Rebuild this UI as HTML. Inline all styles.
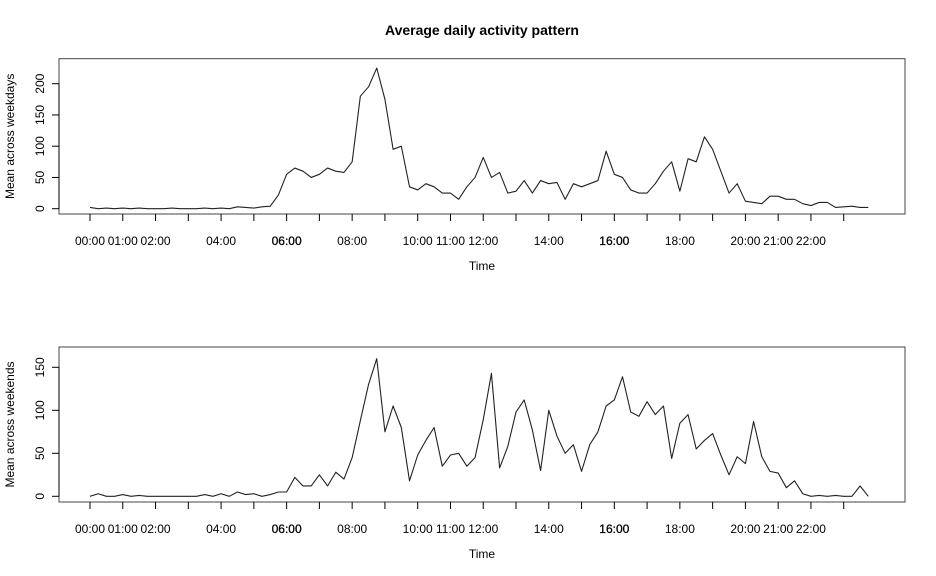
<!DOCTYPE html>
<html><head><meta charset="utf-8"><style>
html,body{margin:0;padding:0;background:#fff;}
svg{display:block;font-family:"Liberation Sans",Arial,sans-serif;}
</style></head><body>
<svg id="chart" width="936" height="576" viewBox="0 0 936 576" xmlns="http://www.w3.org/2000/svg">
<text x="482" y="35" text-anchor="middle" font-size="14" font-weight="bold">Average daily activity pattern</text>
<g id="p1"></g>
<g id="p2"></g>
</svg>
<script>
const hourLabels = ["00:00","01:00","02:00","03:00","04:00","05:00","06:00","07:00","08:00","09:00","10:00","11:00","12:00","13:00","14:00","15:00","16:00","17:00","18:00","19:00","20:00","21:00","22:00","23:00"];
const shownLabels = ["00:00","01:00","02:00","04:00","06:00","08:00","10:00","11:00","12:00","14:00","16:00","18:00","20:00","21:00","22:00"];
const weekdayTicks = [0,50,100,150,200];
const weekendTicks = [0,50,100,150];
const weekdayMeans = [
 2,0,1,0, 1,0,1,0, 0,0,1,0, 0,0,1,0, 1,0,3,2, 1,3,4,22,
 55,65,60,50, 55,65,60,58, 75,180,195,225, 175,95,100,35,
 30,40,35,25, 25,15,35,50, 82,50,58,25, 28,45,25,45,
 40,42,15,40, 35,40,45,92, 55,50,30,25, 25,40,60,75,
 28,80,75,115, 95,60,25,40, 12,10,8,20, 20,15,15,8,
 5,10,10,2, 3,4,2,2];
const weekendMeans = [
 0,3,0,0, 2,0,1,0, 0,0,0,0, 0,0,2,0, 3,0,5,2, 3,0,2,5,
 5,22,12,12, 25,12,28,20, 45,88,130,160, 75,105,80,18,
 48,65,80,35, 48,50,35,45, 89,143,33,58, 98,112,77,30,
 100,70,50,60, 29,60,75,105, 112,139,98,93, 110,95,105,44,
 85,95,55,65, 73,48,25,46, 38,87,46,29, 27,10,18,3,
 0,1,0,1, 0,0,12,0];

const NS="http://www.w3.org/2000/svg";
function mk(parent,tag,attrs){const e=document.createElementNS(NS,tag);for(const k in attrs)e.setAttribute(k,attrs[k]);parent.appendChild(e);return e;}
const xScale = h => 90 + h*32.77;

function panel(g, top, bottom, y0px, pxPerUnit, ticks, values, ylabel, prefix){
  const yScale = v => y0px - v*pxPerUnit;
  const box = mk(g,'rect',{x:59,y:top,width:846,height:bottom-top,fill:'none',stroke:'#444','stroke-width':1});
  
  
  const ya = mk(g,'line',{x1:59,x2:59,y1:yScale(ticks[0]),y2:yScale(ticks[ticks.length-1]),stroke:'#000'});
  
  
  ticks.forEach(t=>{
    const y=yScale(t);
    mk(g,'line',{x1:52,x2:59,y1:y,y2:y,stroke:'#000'});
    const tx=mk(g,'text',{x:0,y:0,'font-size':12,'text-anchor':'middle',transform:`translate(44,${y}) rotate(-90)`});
    tx.textContent=t;
    
    
  });
  const yl=mk(g,'text',{x:0,y:0,'font-size':12,'text-anchor':'middle',transform:`translate(14,${(top+bottom)/2}) rotate(-90)`});
  yl.textContent=ylabel;
  
  
  hourLabels.forEach((lab,i)=>{
    const x=xScale(i);
    mk(g,'line',{x1:x,x2:x,y1:bottom,y2:bottom+7,stroke:'#000'});
    if(shownLabels.includes(lab)){
      const tx=mk(g,'text',{x:x,y:bottom+31,'font-size':12,'text-anchor':'middle'});
      if(lab==="06:00"||lab==="16:00"){tx.setAttribute('stroke','#000');tx.setAttribute('stroke-width','0.3');}
      tx.textContent=lab;
      
      
    }
  });
  const xl=mk(g,'text',{x:482,y:bottom+56,'font-size':12,'text-anchor':'middle'});
  xl.textContent='Time';
  
  
  const pts=values.map((v,i)=>xScale(i*0.25).toFixed(2)+','+yScale(v).toFixed(2)).join(' ');
  const line=mk(g,'polyline',{points:pts,fill:'none',stroke:'#222','stroke-width':1.1,'stroke-linejoin':'round'});
  
  
}
panel(document.getElementById('p1'),58.7,214,208.7,0.625,weekdayTicks,weekdayMeans,'Mean across weekdays','weekday');
panel(document.getElementById('p2'),347,502,496.3,0.86,weekendTicks,weekendMeans,'Mean across weekends','weekend');
</script>
</body></html>
